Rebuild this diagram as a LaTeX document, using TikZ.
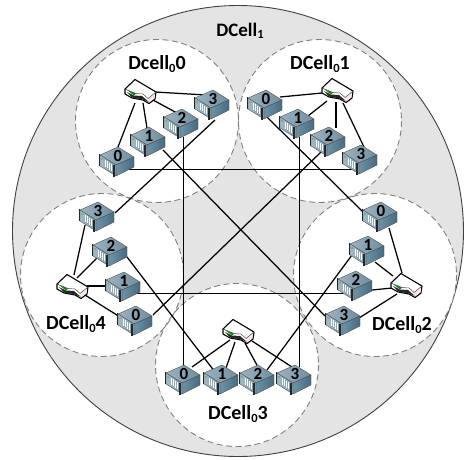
\documentclass[tikz,border=0pt]{standalone}
\usepackage{fontspec}
\setmainfont{Carlito}
\pgfdeclarelayer{wires}
\pgfsetlayers{wires,main}
\definecolor{cellgrey}{HTML}{E4E4E4}
\definecolor{dashgrey}{HTML}{808080}
\definecolor{toplight}{HTML}{9DB2BF}
\definecolor{topdark}{HTML}{6F8D9F}
\definecolor{sidelight}{HTML}{6E91A5}
\definecolor{sidedark}{HTML}{466C82}
\definecolor{frontlight}{HTML}{A3B9C5}
\definecolor{frontdark}{HTML}{7F9DAD}
\newcommand{\sdig}[1]{\raisebox{-2.5pt}{\fontsize{12.5}{12.5}\selectfont #1}}
\tikzset{
  x=1pt,y=-1pt,
  outercell/.style={draw=black!75,line width=0.9pt,fill=cellgrey},
  innerfill/.style={fill=white},
  innerdash/.style={draw=dashgrey,line width=0.9pt,dash pattern=on 6pt off 3.5pt},
  wire/.style={draw=black,line width=1.25pt},
  title/.style={font=\bfseries\fontsize{20}{20}\selectfont,inner sep=0pt},
  srvbox/.style={rectangle,minimum width=34pt,minimum height=28pt,inner sep=0pt},
  swbox/.style={rectangle,minimum width=32pt,minimum height=26pt,inner sep=0pt},
  digit/.style={font=\bfseries\fontsize{17}{17}\selectfont,inner sep=0pt,xshift=1pt,yshift=6pt},
  servericon/.pic={
    \shade[left color=toplight,right color=topdark,draw=black!70,line width=0.35pt]
      (1,-15)--(17,-5)--(-1,3)--(-17,-7)--cycle;
    \shade[left color=sidelight,right color=sidedark,draw=black!70,line width=0.35pt]
      (-1,3)--(17,-5)--(17,5)--(-1,14)--cycle;
    \shade[left color=frontlight,right color=frontdark,draw=black!70,line width=0.35pt]
      (-17,-7)--(-1,3)--(-1,14)--(-17,4)--cycle;
    \foreach \k in {-12,-10,-8,-6}{
      \draw[white,line width=0.7pt] (\k,{-3+0.62*(\k+14)}) -- (\k,{4+0.62*(\k+14)});
    }
    \fill[green!50!black] (-15,-3) circle (0.7);
    \draw[black!85,line width=1.5pt] (-17.5,-8)--(-17.5,4);
    \draw[black!85,line width=1.5pt] (-3,3)--(-3,15);
  },
  switchicon/.pic={
    \draw[black,line width=1.1pt,fill=white,line join=round]
      (-5,-12.5)--(16,0)--(15,7)--(9,11.5)--(3,8)--(-8,6)--(-15,2)--(-15,-3)--cycle;
    \fill[black!85] (-13,0)--(-6,3.5)--(2,4)--(9,10)--(3,7.5)--(-8,5.5)--cycle;
    \fill[green!60!black] (-13,-2)--(-4,1.5)--(-6,3.5)--cycle;
    \fill[magenta!12] (8,6.5)--(15,1.5)--(14.5,6)--(9,10)--cycle;
    \draw[black!70,line width=0.5pt] (-15,-3)--(-4,1.5)--(3,2)--(8,6.5)--(16,0);
  }
}
\newcommand{\srv}[4]{%
  \pic at (#2,#3) {servericon};
  \node[srvbox,label={[digit]center:#4}] (#1) at (#2,#3) {};
}
\newcommand{\swt}[3]{%
  \pic at (#2,#3) {switchicon};
  \node[swbox] (#1) at (#2,#3) {};
}
\newcommand{\lnk}[6]{%
  \draw[wire] ([shift={(#2,#3)}]#1.center) -- ([shift={(#5,#6)}]#4.center);
}
\begin{document}
\begin{tikzpicture}
\useasboundingbox (0,0) rectangle (464,459);
\begin{pgfonlayer}{wires}
  \path[outercell] (238,231) circle (225.5);
  \foreach \c in {(157,121),(320,121),(102,275),(375,275),(237,365)}{
    \path[innerfill] \c circle (81.5);
  }
  \foreach \c in {(157,121),(320,121),(102,275),(375,275),(237,365)}{
    \path[innerdash] \c circle (81.5);
  }
\end{pgfonlayer}

\node[title,font=\bfseries\fontsize{19}{19}\selectfont] (t1) at (240,31) {DCell\sdig{1}};
\node[title] (t2) at (157,64) {Dcell\sdig{0}0};
\node[title] (t3) at (320,64) {DCell\sdig{0}1};
\node[title] (t4) at (76,324) {DCell\sdig{0}4};
\node[title] (t5) at (402,325) {DCell\sdig{0}2};
\node[title] (t6) at (238,414) {DCell\sdig{0}3};

\swt{w0}{140}{92}
\srv{s00}{117}{162}{0}
\srv{s01}{148}{142}{1}
\srv{s02}{181}{124}{2}
\srv{s03}{212}{105}{3}

\swt{w1}{337}{91}
\srv{s10}{265}{105}{0}
\srv{s11}{297}{124}{1}
\srv{s12}{328}{142}{2}
\srv{s13}{360}{160}{3}

\swt{w4}{72}{287}
\srv{s43}{97}{217}{3}
\srv{s42}{110}{252}{2}
\srv{s41}{123}{287}{1}
\srv{s40}{135}{321}{0}

\swt{w2}{406}{286}
\srv{s20}{380}{217}{0}
\srv{s21}{367}{251}{1}
\srv{s22}{355}{286}{2}
\srv{s23}{343}{321}{3}

\swt{w3}{238}{332}
\srv{s30}{183}{380}{0}
\srv{s31}{221}{380}{1}
\srv{s32}{257}{380}{2}
\srv{s33}{294}{380}{3}

\begin{pgfonlayer}{wires}
  % switch to server
  \lnk{w0}{-5}{11}{s00}{1}{-15}
  \lnk{w0}{3}{11}{s01}{-1}{-14}
  \lnk{w0}{13}{8}{s02}{-4}{-11}
  \lnk{w0}{15}{0}{s03}{-6}{-10}
  \lnk{w1}{-15}{2}{s10}{15}{-8}
  \lnk{w1}{-10}{10}{s11}{11}{-8}
  \lnk{w1}{-1}{11}{s12}{8}{-14}
  \lnk{w1}{6}{12}{s13}{4}{-13}
  \lnk{w4}{2}{-12}{s43}{-12}{8}
  \lnk{w4}{5}{-9}{s42}{-13}{6}
  \lnk{w4}{15}{-1}{s41}{-17}{-1}
  \lnk{w4}{13}{8}{s40}{-15}{-4}
  \lnk{w2}{-4}{-13}{s20}{9}{11}
  \lnk{w2}{-13}{-10}{s21}{8}{11}
  \lnk{w2}{-14}{2}{s22}{17}{4}
  \lnk{w2}{-9}{8}{s23}{16}{-3}
  \lnk{w3}{-8}{8}{s30}{9}{-13}
  \lnk{w3}{-3}{10}{s31}{5}{-12}
  \lnk{w3}{7}{11}{s32}{1}{-13}
  \lnk{w3}{14}{9}{s33}{-2}{-13}
  % between cells
  \lnk{s00}{6}{7.5}{s13}{-2}{9.5}
  \lnk{s01}{15}{8}{s23}{-18}{-5}
  \lnk{s02}{2.5}{13}{s30}{0.5}{-15}
  \lnk{s03}{3}{15}{s43}{18}{-4}
  \lnk{s10}{2}{12}{s20}{-17}{-5}
  \lnk{s11}{2.5}{13}{s33}{5.5}{-13}
  \lnk{s12}{-7}{10}{s40}{18}{-6}
  \lnk{s41}{12}{6.5}{s22}{-10}{7.5}
  \lnk{s42}{17}{5}{s31}{-6}{-8}
  \lnk{s21}{-15}{4}{s32}{10}{-10}
\end{pgfonlayer}
\end{tikzpicture}
\end{document}
